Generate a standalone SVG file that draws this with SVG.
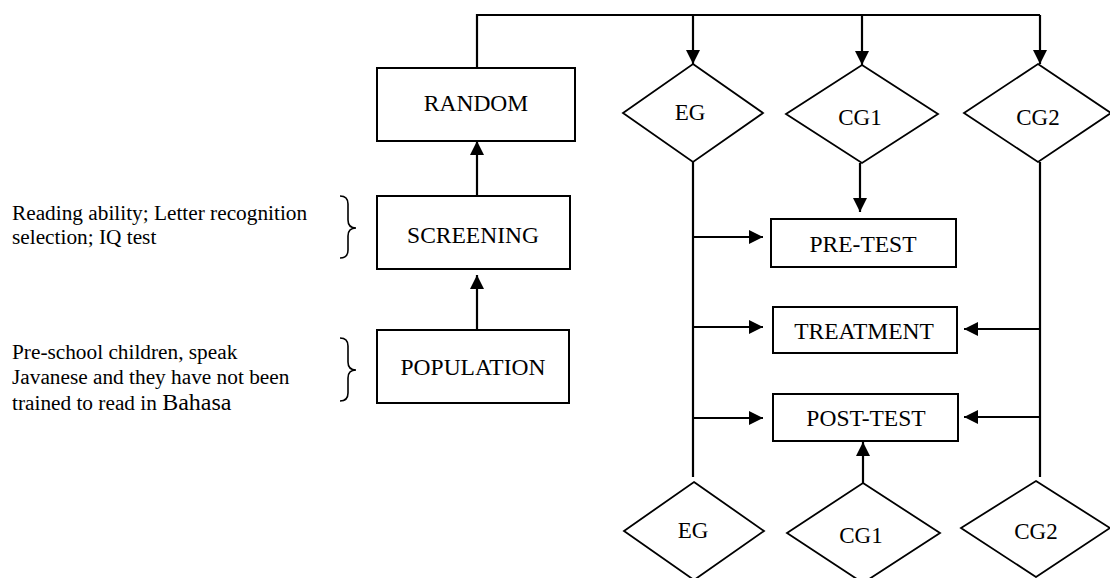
<svg xmlns="http://www.w3.org/2000/svg" width="1110" height="578" viewBox="0 0 1110 578">
<style>
  .box{fill:#fff;stroke:#000;stroke-width:2}
  .dia{fill:#fff;stroke:#000;stroke-width:1.8}
  .lbl{font-family:"Liberation Serif","Times New Roman",serif;font-size:23.5px;fill:#000;text-anchor:middle}
  .dl{font-family:"Liberation Serif","Times New Roman",serif;font-size:23px;fill:#000;text-anchor:middle}
  .note{font-family:"Liberation Serif","Times New Roman",serif;font-size:21.3px;fill:#000}
  .c{fill:none;stroke:#000;stroke-width:2.2}
  .arr{fill:none;stroke:#000;stroke-width:2.2;marker-end:url(#ah)}
  .brace{fill:none;stroke:#000;stroke-width:1.6}
</style>
<defs>
  <marker id="ah" markerUnits="userSpaceOnUse" markerWidth="16" markerHeight="14" refX="14" refY="7" orient="auto">
    <path d="M0,0 L14,7 L0,14 Z" fill="#000"/>
  </marker>
</defs>
<rect width="1110" height="578" fill="#fff"/>

<g id="connectors">
  <path class="c" d="M477,68 V15 H1040"/>
  <path class="arr" d="M693,15 V64"/>
  <path class="arr" d="M862,15 V65"/>
  <path class="arr" d="M1040,15 V64"/>
  <path class="arr" d="M477,196 V141"/>
  <path class="arr" d="M477,330 V275"/>
  <path class="c" d="M693,162 V477"/>
  <path class="arr" d="M693,237 H763"/>
  <path class="arr" d="M693,327 H763"/>
  <path class="arr" d="M693,418 H763"/>
  <path class="arr" d="M860,163 V212"/>
  <path class="c" d="M1040,162 V477"/>
  <path class="arr" d="M1040,329 H964"/>
  <path class="arr" d="M1040,417 H964"/>
  <path class="arr" d="M863,483 V442"/>
</g>

<g id="note-screening">
  <text class="note" x="12" y="220">Reading ability; Letter recognition</text>
  <text class="note" x="12" y="244">selection; IQ test</text>
  <path class="brace" d="M340,196 Q348,196 348,204 V220 Q348,228 356,228 Q348,228 348,236 V250 Q348,258 340,258"/>
</g>
<g id="note-population">
  <text class="note" x="12" y="359">Pre-school children, speak</text>
  <text class="note" x="12" y="384">Javanese and they have not been</text>
  <text class="note" x="12" y="410">trained to read in <tspan font-size="24">Bahasa</tspan></text>
  <path class="brace" d="M340,338 Q348,338 348,346 V362 Q348,370 356,370 Q348,370 348,378 V393 Q348,401 340,401"/>
</g>

<g id="random"><rect class="box" x="377" y="68" width="198" height="73"/><text class="lbl" x="476" y="111">RANDOM</text></g>
<g id="screening"><rect class="box" x="377" y="196" width="193" height="73"/><text class="lbl" x="473" y="243">SCREENING</text></g>
<g id="population"><rect class="box" x="377" y="330" width="192" height="73"/><text class="lbl" x="473" y="375">POPULATION</text></g>

<g id="eg-top"><polygon class="dia" points="693,64 763,113 693,162 623,113"/><text class="dl" x="690" y="120">EG</text></g>
<g id="cg1-top"><polygon class="dia" points="862,65 938,114 862,163 786,114"/><text class="dl" x="860" y="125">CG1</text></g>
<g id="cg2-top"><polygon class="dia" points="1038,64 1111,113 1038,162 964,113"/><text class="dl" x="1038" y="125">CG2</text></g>

<g id="pre-test"><rect class="box" x="771" y="219" width="185" height="48"/><text class="lbl" x="863" y="252">PRE-TEST</text></g>
<g id="treatment"><rect class="box" x="773" y="307" width="184" height="46"/><text class="lbl" x="864" y="339">TREATMENT</text></g>
<g id="post-test"><rect class="box" x="773" y="394" width="185" height="47"/><text class="lbl" x="866" y="426">POST-TEST</text></g>

<g id="eg-bottom"><polygon class="dia" points="694,482 764,531 694,580 624,531"/><text class="dl" x="693" y="538">EG</text></g>
<g id="cg1-bottom"><polygon class="dia" points="863,483 940,533 863,583 787,533"/><text class="dl" x="861" y="543">CG1</text></g>
<g id="cg2-bottom"><polygon class="dia" points="1036,481 1110,528 1036,577 961,528"/><text class="dl" x="1036" y="539">CG2</text></g>
</svg>
